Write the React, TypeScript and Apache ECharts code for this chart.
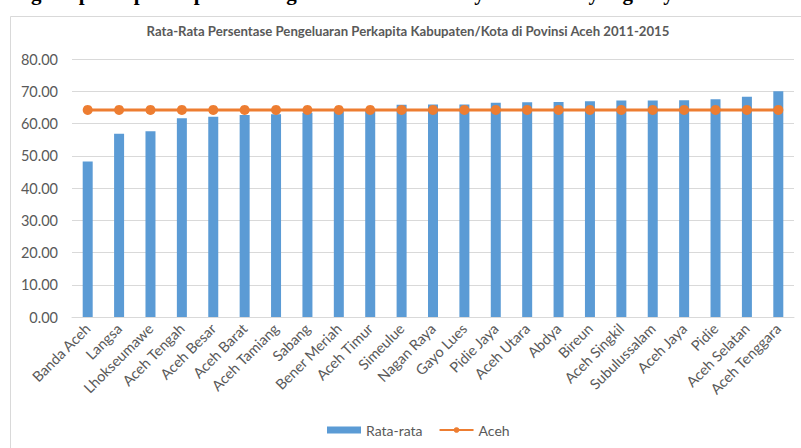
import React, { useEffect, useRef } from "react";
import * as echarts from "echarts";

const categories = [
  "Banda Aceh", "Langsa", "Lhokseumawe", "Aceh Tengah", "Aceh Besar", "Aceh Barat",
  "Aceh Tamiang", "Sabang", "Bener Meriah", "Aceh Timur", "Simeulue", "Nagan Raya",
  "Gayo Lues", "Pidie Jaya", "Aceh Utara", "Abdya", "Bireun", "Aceh Singkil",
  "Subulussalam", "Aceh Jaya", "Pidie", "Aceh Selatan", "Aceh Tenggara",
];
const rataRata = [
  48.2, 56.8, 57.6, 61.6, 62.1, 62.6, 62.9, 63.3, 63.8, 64.4, 65.8, 65.9,
  65.9, 66.4, 66.6, 66.7, 66.9, 67.1, 67.1, 67.2, 67.5, 68.3, 70.0,
];
const acehValue = 64.2;
const aceh = categories.map(() => acehValue);
const yTicks = { min: 0, max: 80, interval: 10 };

const titleText = "Rata-Rata Persentase Pengeluaran Perkapita Kabupaten/Kota di Povinsi Aceh 2011-2015";
const captionText = "Percentage of per capita expenditure growth time series Stylized Fact by regency in Aceh Province";

export default function App() {
  const ref = useRef<HTMLDivElement>(null);
  useEffect(() => {
    if (!ref.current) return;
    const chart = echarts.init(ref.current, null, { renderer: "svg" });
    const font = "Lato";
    chart.setOption({
      animation: false,
      backgroundColor: "#ffffff",
      textStyle: { fontFamily: font },
      title: {
        text: titleText,
        left: 403,
        textAlign: "center",
        top: 19,
        textStyle: { fontFamily: font, fontSize: 13.2, fontWeight: "bold", color: "#595959" },
      },
      graphic: [
        {
          type: "rect",
          shape: { x: 10.5, y: 16.5, width: 900, height: 600 },
          style: { fill: "none", stroke: "#d9d9d9", lineWidth: 1 },
          silent: true,
          z: -10,
        },
        {
          type: "text",
          x: -48,
          y: 3,
          style: {
            text: captionText,
            font: "bold 21px 'Liberation Serif'",
            fill: "#000000",
            verticalAlign: "bottom",
          },
          silent: true,
        },
      ],
      legend: {
        bottom: 6,
        left: 322,
        itemGap: 16,
        itemWidth: 34,
        itemHeight: 7,
        textStyle: { fontFamily: font, fontSize: 14, color: "#595959" },
        data: [
          { name: "Rata-rata", icon: "rect" },
          { name: "Aceh" },
        ],
      },
      grid: { left: 72, right: 7, top: 59, bottom: 131, containLabel: false },
      xAxis: {
        type: "category",
        data: categories,
        axisLine: { lineStyle: { color: "#d9d9d9" } },
        axisTick: { show: false },
        axisLabel: {
          interval: 0,
          rotate: 45,
          margin: 9,
          fontFamily: font,
          fontSize: 14.5,
          color: "#595959",
        },
      },
      yAxis: {
        type: "value",
        min: yTicks.min,
        max: yTicks.max,
        interval: yTicks.interval,
        axisLine: { show: false },
        axisTick: { show: false },
        splitLine: { lineStyle: { color: "#d9d9d9", width: 1 } },
        axisLabel: {
          margin: 14,
          fontFamily: font,
          fontSize: 14.5,
          color: "#595959",
          formatter: (v: number) => v.toFixed(2),
        },
      },
      series: [
        {
          name: "Rata-rata",
          type: "bar",
          data: rataRata,
          barWidth: 10,
          itemStyle: { color: "#5b9bd5" },
        },
        {
          name: "Aceh",
          type: "line",
          data: aceh,
          symbol: "circle",
          symbolSize: 10,
          lineStyle: { color: "#ed7d31", width: 3 },
          itemStyle: { color: "#ed7d31" },
          z: 5,
        },
      ],
    });
    return () => chart.dispose();
  }, []);
  return (
    <div
      ref={ref}
      style={{ position: "absolute", left: 0, top: 0, width: 801, height: 448 }}
    />
  );
}
